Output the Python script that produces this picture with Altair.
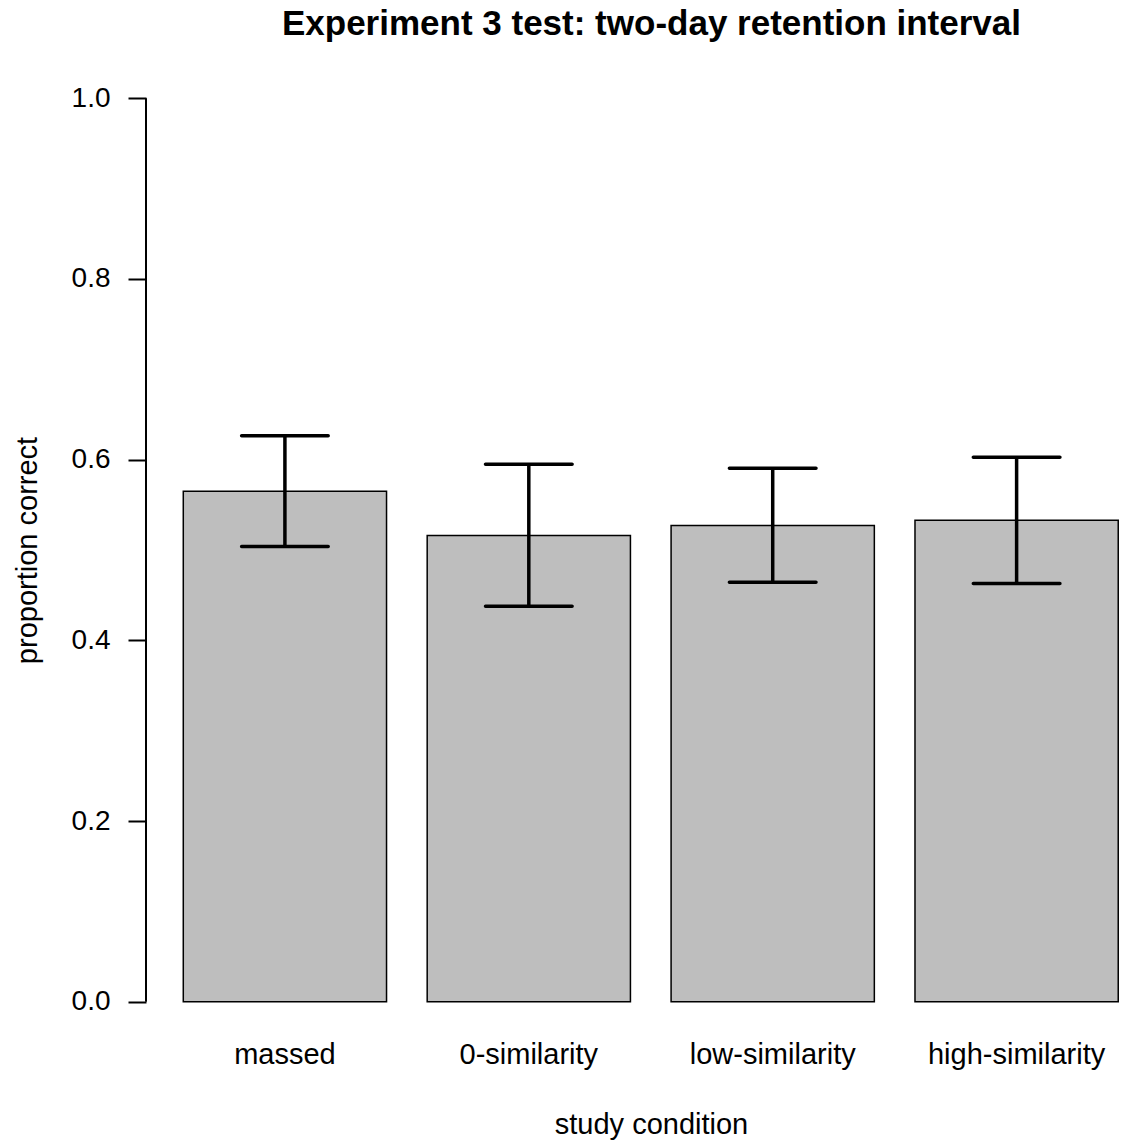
import altair as alt
import pandas as pd

# Data
conditions = ["massed", "0-similarity", "low-similarity", "high-similarity"]
means = [0.565, 0.516, 0.527, 0.533]
upper = [0.6265, 0.595, 0.5905, 0.6027]
lower = [0.504, 0.4377, 0.4643, 0.4629]
y_ticks = [0.0, 0.2, 0.4, 0.6, 0.8, 1.0]

df = pd.DataFrame({"condition": conditions, "mean": means, "upper": upper, "lower": lower})
axis_df = pd.DataFrame({"y0": [y_ticks[0]], "y1": [y_ticks[-1]]})

FONT = "Liberation Sans, Arial, Helvetica, sans-serif"

x_scale = alt.Scale(domain=conditions, paddingInner=1 / 6, paddingOuter=0.0821, align=0.931)
y_scale = alt.Scale(domain=[-0.04, 1.04], nice=False, zero=False)

x_axis = alt.Axis(
    title="study condition", labelAngle=0, ticks=False, tickSize=0, domain=False, grid=False,
    labelFontSize=29, labelFont=FONT, labelColor="black", labelBaseline="alphabetic",
    labelPadding=25, titleFontSize=29, titleFont=FONT, titleFontWeight="normal",
    titleColor="black", titleBaseline="alphabetic", titleY=95, titleX=505, titleAlign="center",
)
y_axis = alt.Axis(
    title="proportion correct", values=y_ticks, format=".1f", tickSize=18, tickWidth=2,
    tickColor="black", domain=False, grid=False, labelFontSize=28, labelFont=FONT,
    labelColor="black", labelPadding=18, titleFontSize=29, titleFont=FONT,
    titleFontWeight="normal", titleColor="black", titleBaseline="alphabetic", titleX=-110,
)

base = alt.Chart(df)


def xe():
    return alt.X("condition:N", scale=x_scale, sort=conditions, axis=x_axis)


bars = base.mark_bar(fill="#BEBEBE", stroke="black", strokeWidth=1.5).encode(
    x=xe(),
    y=alt.Y("mean:Q", scale=y_scale, axis=y_axis),
    y2=alt.datum(0),
)

err = base.mark_rule(color="black", strokeWidth=3.5).encode(
    x=xe(),
    y=alt.Y("lower:Q", scale=y_scale, axis=y_axis),
    y2="upper:Q",
)

cap_hi = base.mark_tick(color="black", size=90, thickness=3.5, orient="horizontal",
                        cornerRadius=1.7, opacity=1).encode(
    x=xe(),
    y=alt.Y("upper:Q", scale=y_scale, axis=y_axis),
)
cap_lo = base.mark_tick(color="black", size=90, thickness=3.5, orient="horizontal",
                        cornerRadius=1.7, opacity=1).encode(
    x=xe(),
    y=alt.Y("lower:Q", scale=y_scale, axis=y_axis),
)

axis_line = alt.Chart(axis_df).mark_rule(color="black", strokeWidth=2).encode(
    x=alt.value(0),
    y=alt.Y("y0:Q", scale=y_scale, axis=y_axis),
    y2="y1:Q",
)

chart = alt.layer(bars, err, cap_hi, cap_lo, axis_line).properties(
    width=975,
    height=976,
    title=alt.TitleParams(
        "Experiment 3 test: two-day retention interval",
        fontSize=35, font=FONT, fontWeight="bold", color="black",
        anchor="middle", dx=18, offset=20,
    ),
    padding={"left": 146, "top": 62, "right": 0, "bottom": 106},
    autosize=alt.AutoSizeParams(type="none"),
    background="white",
).configure_view(stroke=None)

chart.save("out.html", embed_options={"renderer": "svg", "actions": False})
